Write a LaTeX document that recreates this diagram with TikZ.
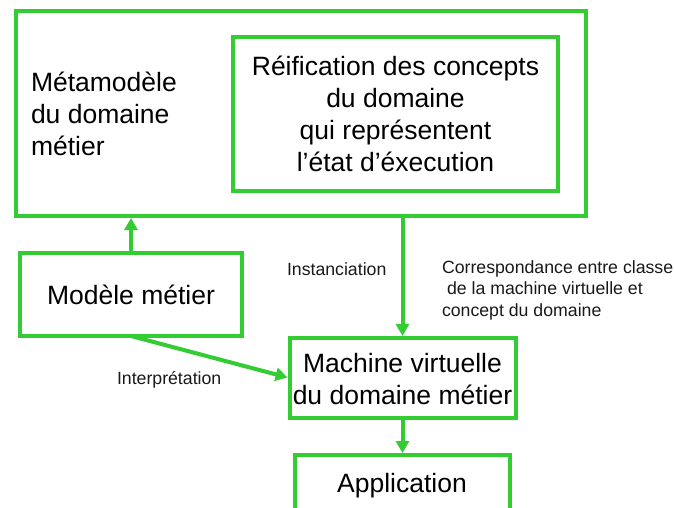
\documentclass[tikz,border=0pt]{standalone}
\usepackage{fontspec}
\setmainfont{Liberation Sans}
\usetikzlibrary{arrows.meta}
\definecolor{vert}{HTML}{33CC33}
\tikzset{
  x=1pt,y=-1pt,
  boite/.style={draw=vert,line width=4pt,fill=white,rectangle,inner sep=0pt,outer sep=0pt,align=center,font=\fontsize{26.5}{32}\selectfont},
  fleche/.style={draw=vert,line width=4pt,-{Triangle[length=12pt,width=13pt]}},
  grand/.style={inner sep=0pt,outer sep=0pt,align=left,font=\fontsize{26.5}{32}\selectfont},
  centre/.style={inner sep=0pt,outer sep=0pt,align=center,font=\fontsize{26.5}{32}\selectfont},
  petit/.style={inner sep=0pt,outer sep=0pt,align=left,text=black!90,font=\fontsize{17.7}{21.5}\selectfont}
}
\begin{document}
\begin{tikzpicture}
\useasboundingbox (0,0) rectangle (674,508);
\clip (0,0) rectangle (674,508);
\node[boite,minimum width=570pt,minimum height=205pt] (outer) at (301,113.5) {};
\node[boite,minimum width=325pt,minimum height=154pt] (inner) at (395.5,114) {Réification des concepts\\du domaine\\qui représentent\\l’état d’éxecution};
\node[grand,anchor=west] (meta) at (31,114) {Métamodèle\\du domaine\\métier};
\node[boite,minimum width=222pt,minimum height=83pt] (modele) at (131,294.5) {Modèle métier};
\node[boite,minimum width=226pt,minimum height=80pt] (machine) at (402.5,378) {};
\node[centre] (machinet) at (402.5,379.5) {Machine virtuelle\\du domaine métier};
\node[boite,minimum width=215pt,minimum height=90pt] (appli) at (402.5,500) {};
\node[centre] (applit) at (402,486) {Application};
\draw[fleche,shorten >=2pt] (modele.north) -- (modele.north |- outer.south);
\draw[fleche,shorten >=2pt] (machine.north |- outer.south) -- (machine.north);
\draw[fleche,shorten >=2pt] (modele.south) -- (machine.west);
\draw[fleche,shorten >=2pt] (machine.south) -- (appli.north);
\node[petit,anchor=west] (inst) at (287,269) {Instanciation};
\node[petit,anchor=west] (interp) at (117,380) {Interprétation};
\node[petit,anchor=west] (corr) at (442,290) {Correspondance entre classe\\\hspace*{5pt}de la machine virtuelle et\\concept du domaine};
\end{tikzpicture}
\end{document}
